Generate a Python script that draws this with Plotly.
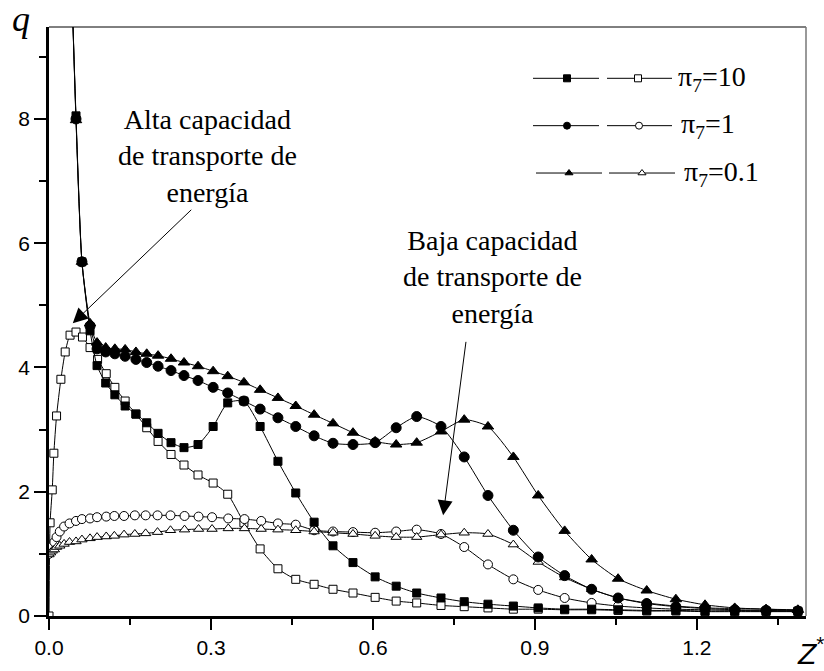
import plotly.graph_objects as go

# ---------------- data ----------------
x_filled = [0.043, 0.050, 0.061, 0.076, 0.089, 0.105, 0.122, 0.141, 0.161, 0.181,
            0.202, 0.226, 0.250, 0.276, 0.304, 0.331, 0.361, 0.391, 0.424, 0.457,
            0.491, 0.526, 0.563, 0.604, 0.643, 0.681, 0.726, 0.769, 0.813, 0.860,
            0.906, 0.955, 1.005, 1.054, 1.107, 1.161, 1.215, 1.270, 1.328, 1.387]

q_pi10_filled = [9.9, 8.05, 5.70, 4.59, 4.03, 3.75, 3.56, 3.38, 3.25, 3.11,
                 2.94, 2.79, 2.71, 2.76, 3.05, 3.43, 3.46, 3.05, 2.49, 1.98,
                 1.51, 1.13, 0.86, 0.63, 0.48, 0.37, 0.29, 0.23, 0.19, 0.16,
                 0.13, 0.11, 0.11, 0.10, 0.09, 0.09, 0.08, 0.08, 0.08, 0.08]

q_pi1_filled = [9.9, 8.00, 5.70, 4.67, 4.30, 4.25, 4.22, 4.18, 4.13, 4.08,
                4.02, 3.95, 3.87, 3.79, 3.68, 3.59, 3.46, 3.33, 3.19, 3.05,
                2.90, 2.78, 2.76, 2.79, 3.03, 3.21, 3.05, 2.56, 1.94, 1.38,
                0.95, 0.65, 0.43, 0.29, 0.20, 0.15, 0.12, 0.10, 0.09, 0.08]

q_pi01_filled = [9.9, 7.98, 5.70, 4.71, 4.40, 4.32, 4.30, 4.29, 4.25, 4.22,
                 4.19, 4.14, 4.08, 4.02, 3.94, 3.86, 3.76, 3.64, 3.51, 3.38,
                 3.24, 3.10, 2.95, 2.81, 2.76, 2.79, 2.97, 3.16, 3.05, 2.56,
                 1.94, 1.37, 0.91, 0.60, 0.41, 0.27, 0.18, 0.13, 0.11, 0.10]

x_open_sq = [0.000, 0.002, 0.006, 0.009, 0.014, 0.022, 0.030, 0.039, 0.050, 0.062,
             0.076, 0.090, 0.106, 0.122, 0.141, 0.161, 0.181, 0.202, 0.226, 0.250,
             0.276, 0.304, 0.331, 0.361, 0.391, 0.424, 0.457, 0.491, 0.526, 0.563,
             0.604, 0.643, 0.681, 0.726, 0.769, 0.813, 0.860, 0.906, 0.955, 1.005,
             1.054, 1.107, 1.161, 1.215, 1.270, 1.328, 1.387]
q_pi10_open = [0.00, 1.50, 2.03, 2.62, 3.22, 3.81, 4.25, 4.52, 4.57, 4.49,
               4.32, 4.13, 3.90, 3.68, 3.46, 3.25, 3.03, 2.81, 2.60, 2.43,
               2.27, 2.14, 1.96, 1.50, 1.08, 0.76, 0.59, 0.51, 0.43, 0.37,
               0.30, 0.24, 0.21, 0.17, 0.15, 0.13, 0.11, 0.11, 0.10, 0.10,
               0.09, 0.08, 0.08, 0.07, 0.07, 0.07, 0.07]

x_open = [0.000, 0.003, 0.006, 0.010, 0.014, 0.020, 0.028, 0.038, 0.050, 0.061,
          0.076, 0.089, 0.106, 0.121, 0.139, 0.159, 0.179, 0.201, 0.225, 0.251,
          0.277, 0.302, 0.332, 0.362, 0.393, 0.424, 0.457, 0.491, 0.526, 0.563,
          0.604, 0.643, 0.681, 0.726, 0.769, 0.813, 0.860, 0.906, 0.955, 1.005,
          1.054, 1.107, 1.161, 1.215, 1.270, 1.328, 1.387]
q_pi1_open = [1.00, 1.06, 1.12, 1.19, 1.27, 1.36, 1.44, 1.49, 1.53, 1.56,
              1.57, 1.59, 1.60, 1.61, 1.61, 1.62, 1.62, 1.62, 1.62, 1.61,
              1.60, 1.59, 1.57, 1.56, 1.53, 1.49, 1.47, 1.38, 1.36, 1.35,
              1.34, 1.36, 1.39, 1.32, 1.11, 0.83, 0.59, 0.42, 0.29, 0.21,
              0.16, 0.13, 0.11, 0.10, 0.09, 0.08, 0.08]
q_pi01_open = [0.99, 1.02, 1.05, 1.07, 1.11, 1.13, 1.16, 1.19, 1.20, 1.23,
               1.25, 1.27, 1.28, 1.29, 1.31, 1.32, 1.33, 1.35, 1.38, 1.39,
               1.40, 1.40, 1.41, 1.41, 1.40, 1.39, 1.38, 1.36, 1.34, 1.32,
               1.29, 1.27, 1.27, 1.31, 1.34, 1.32, 1.15, 0.87, 0.62, 0.43,
               0.29, 0.21, 0.16, 0.13, 0.12, 0.11, 0.09]

legend_labels = ["π<sub>7</sub>=10", "π<sub>7</sub>=1", "π<sub>7</sub>=0.1"]
x_ticks = [0.0, 0.3, 0.6, 0.9, 1.2]
y_ticks = [0, 2, 4, 6, 8]

# ---------------- style ----------------
SERIF = "Liberation Serif, Times New Roman, serif"
SANS = "Liberation Sans, Arial, sans-serif"
BLACK = "#000000"

fig = go.Figure()

def add_series(x, y, symbol, size, filled):
    fig.add_trace(go.Scatter(
        x=x, y=y, mode="lines+markers",
        line=dict(color=BLACK, width=1, shape="spline", smoothing=0.6),
        marker=dict(symbol=symbol, size=size,
                    color=BLACK if filled else "white",
                    line=dict(color=BLACK, width=1)),
        showlegend=False, cliponaxis=True))

# open curves first (drawn under)
add_series(x_open_sq, q_pi10_open, "square", 8, False)
add_series(x_open, q_pi1_open, "circle", 9, False)
add_series(x_open, q_pi01_open, "triangle-up", 9, False)
add_series(x_filled, q_pi10_filled, "square", 8, True)
add_series(x_filled, q_pi1_filled, "circle", 10, True)
add_series(x_filled, q_pi01_filled, "triangle-up", 10, True)

# ---------------- manual legend on an overlay pixel axis ----------------
leg_rows = [(79, "square", 533, 599, 567, 607, 672, 638, 676),
            (127, "circle", 533, 599, 567, 607, 672, 639, 679),
            (175, "triangle-up", 536, 602, 569, 609, 675, 642, 682)]
for (ly, sym, a0, a1, am, b0, b1, bm, tx), lab in zip(leg_rows, legend_labels):
    for s0, s1, sm, filled in ((a0, a1, am, True), (b0, b1, bm, False)):
        fig.add_trace(go.Scatter(x=[s0, s1], y=[ly, ly], mode="lines",
                                 line=dict(color=BLACK, width=1),
                                 xaxis="x2", yaxis="y2", showlegend=False, hoverinfo="skip"))
        fig.add_trace(go.Scatter(x=[sm], y=[ly], mode="markers",
                                 marker=dict(symbol=sym, size=7,
                                             color=BLACK if filled else "white",
                                             line=dict(color=BLACK, width=1)),
                                 xaxis="x2", yaxis="y2", showlegend=False, hoverinfo="skip"))
    fig.add_annotation(x=tx, y=ly, xref="x2", yref="y2", text=lab, showarrow=False,
                       xanchor="left", yanchor="middle",
                       font=dict(family=SERIF, size=28, color=BLACK))

# ---------------- text annotations with arrows ----------------
fig.add_annotation(x=0.293, y=7.40, text="Alta capacidad<br>de transporte de<br>energía",
                   showarrow=False, font=dict(family=SERIF, size=28, color=BLACK),
                   xanchor="center", yanchor="middle", align="center")
fig.add_annotation(x=0.822, y=5.45, text="Baja capacidad<br>de transporte de<br>energía",
                   showarrow=False, font=dict(family=SERIF, size=28, color=BLACK),
                   xanchor="center", yanchor="middle", align="center")
fig.add_annotation(x=0.044, y=4.71, ax=120, ay=-115, axref="pixel", ayref="pixel",
                   showarrow=True, arrowhead=2, arrowsize=3, arrowwidth=1,
                   arrowcolor=BLACK, text="")
fig.add_annotation(x=0.730, y=1.62, ax=23, ay=-175, axref="pixel", ayref="pixel",
                   showarrow=True, arrowhead=2, arrowsize=3, arrowwidth=1,
                   arrowcolor=BLACK, text="")

# axis titles
fig.add_annotation(x=0, y=1, xref="paper", yref="paper", xanchor="center", yanchor="middle",
                   xshift=-28, yshift=8, text="<i>q</i>", showarrow=False,
                   font=dict(family=SERIF, size=36, color=BLACK))
fig.add_annotation(x=1.0, y=0, xref="paper", yref="paper", xanchor="left", yanchor="top",
                   xshift=-11, yshift=-14,
                   text="<i>Z</i><sup>*</sup>", showarrow=False,
                   font=dict(family=SANS, size=30, color=BLACK))

# frame top/right
fig.add_shape(type="line", xref="paper", yref="paper", x0=0, x1=1, y0=1, y1=1,
              line=dict(color=BLACK, width=1))
fig.add_shape(type="line", xref="paper", yref="paper", x0=1, x1=1, y0=0, y1=1,
              line=dict(color="#777777", width=1.5))

fig.update_layout(
    width=824, height=671,
    margin=dict(l=49, r=18, t=27, b=47),
    paper_bgcolor="white", plot_bgcolor="white",
    showlegend=False,
    xaxis=dict(range=[0, 1.402], tickvals=x_ticks, ticktext=[f"{v:.1f}" for v in x_ticks],
               ticks="outside", ticklen=11, tickwidth=2, tickcolor=BLACK,
               showline=True, linewidth=2.5, linecolor=BLACK, mirror=False,
               showgrid=False, zeroline=False,
               tickfont=dict(family=SANS, size=21, color=BLACK),
               minor=dict(dtick=0.15, tick0=0, ticks="outside", ticklen=6, tickwidth=2,
                          tickcolor=BLACK, showgrid=False)),
    yaxis=dict(range=[0, 9.48], tickvals=y_ticks, ticktext=[str(v) for v in y_ticks],
               ticks="outside", ticklen=12, tickwidth=2, tickcolor=BLACK,
               showline=True, linewidth=2.5, linecolor=BLACK, mirror=False,
               showgrid=False, zeroline=False,
               tickfont=dict(family=SANS, size=21, color=BLACK),
               minor=dict(dtick=1, tick0=0, ticks="outside", ticklen=7, tickwidth=2,
                          tickcolor=BLACK, showgrid=False)),
    xaxis2=dict(overlaying="x", range=[49, 806], visible=False, fixedrange=True),
    yaxis2=dict(overlaying="y", range=[624, 27], visible=False, fixedrange=True),
)

fig.write_html("out.html")
